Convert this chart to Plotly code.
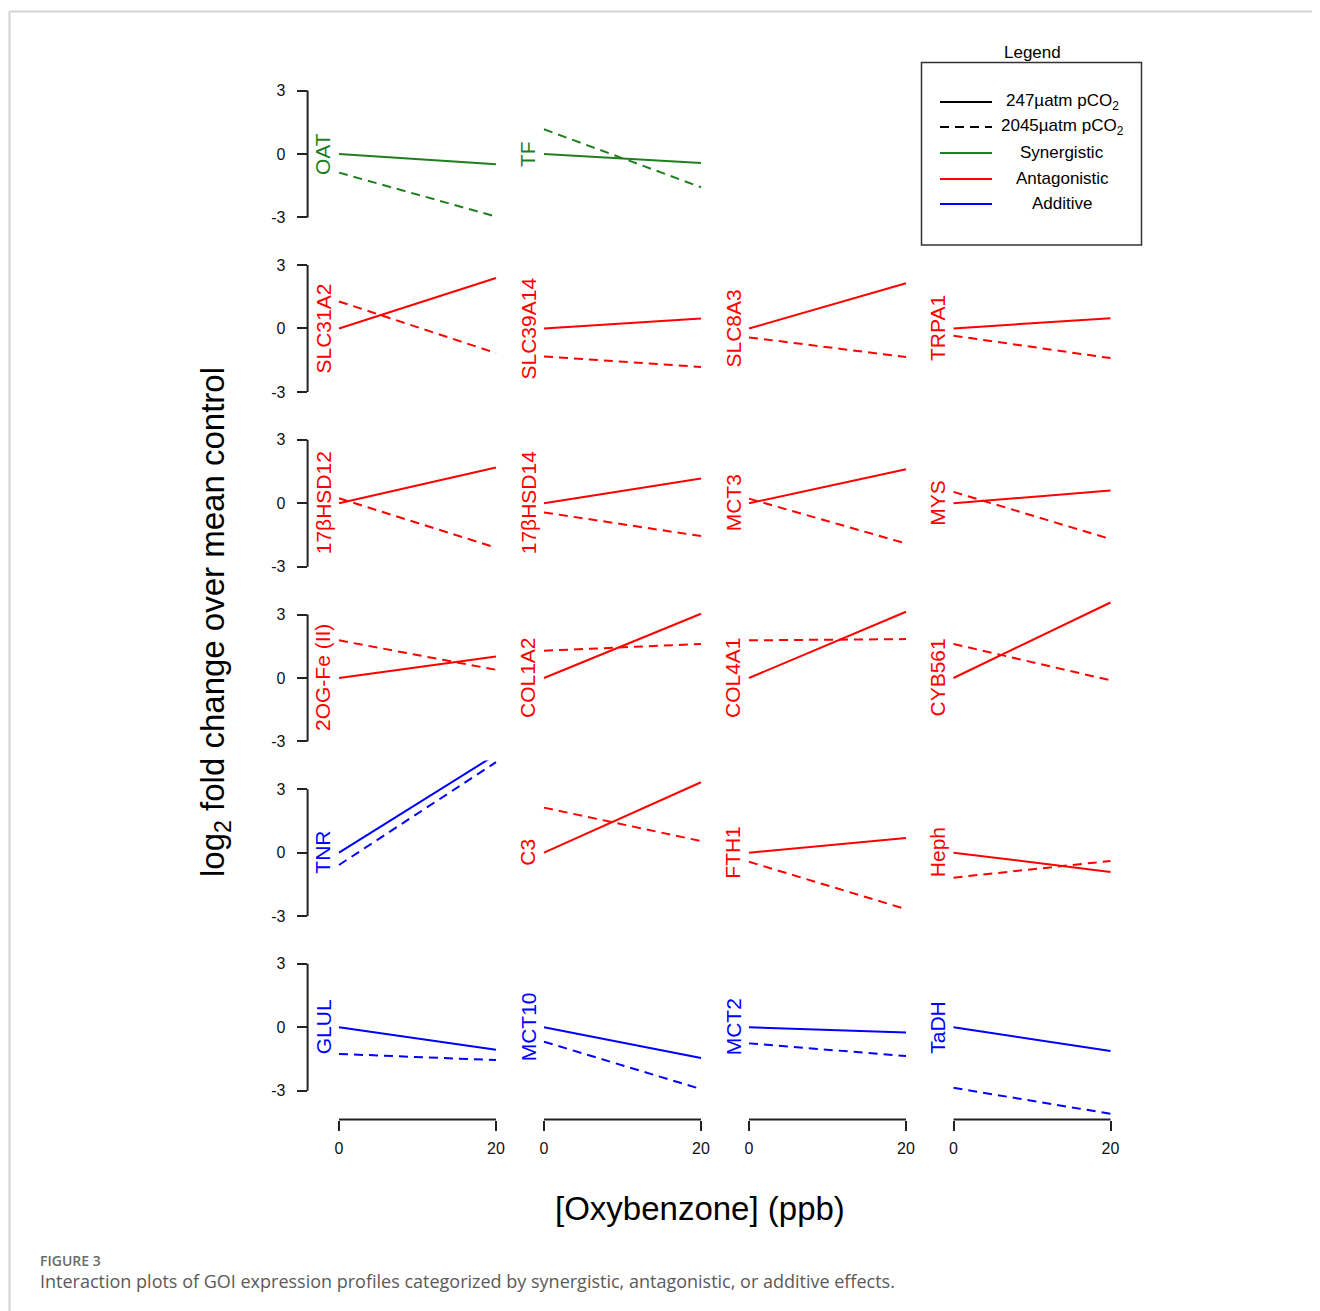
import plotly.graph_objects as go

# ---------------- data ----------------
panel_rows = [
    ["OAT", "TF"],
    ["SLC31A2", "SLC39A14", "SLC8A3", "TRPA1"],
    ["17βHSD12", "17βHSD14", "MCT3", "MYS"],
    ["2OG-Fe (II)", "COL1A2", "COL4A1", "CYB561"],
    ["TNR", "C3", "FTH1", "Heph"],
    ["GLUL", "MCT10", "MCT2", "TaDH"],
]
genes = ["OAT", "TF", "SLC31A2", "SLC39A14", "SLC8A3", "TRPA1",
         "17βHSD12", "17βHSD14", "MCT3", "MYS",
         "2OG-Fe (II)", "COL1A2", "COL4A1", "CYB561",
         "TNR", "C3", "FTH1", "Heph",
         "GLUL", "MCT10", "MCT2", "TaDH"]
effect = ["Synergistic", "Synergistic",
          "Antagonistic", "Antagonistic", "Antagonistic", "Antagonistic",
          "Antagonistic", "Antagonistic", "Antagonistic", "Antagonistic",
          "Antagonistic", "Antagonistic", "Antagonistic", "Antagonistic",
          "Additive", "Antagonistic", "Antagonistic", "Antagonistic",
          "Additive", "Additive", "Additive", "Additive"]
oxybenzone = [0, 20]
# 247 uatm pCO2 (solid): value at 0 and 20 ppb
low_0 = [0.0] * 22
low_20 = [-0.48, -0.43, 2.39, 0.47, 2.14, 0.49,
          1.69, 1.17, 1.61, 0.60,
          1.02, 3.04, 3.13, 3.57,
          4.64, 3.33, 0.69, -0.91,
          -1.06, -1.45, -0.25, -1.12]
# 2045 uatm pCO2 (dashed)
high_0 = [-0.88, 1.17, 1.28, -1.32, -0.42, -0.34,
          0.24, -0.43, 0.22, 0.54,
          1.78, 1.29, 1.78, 1.61,
          -0.58, 2.13, -0.43, -1.18,
          -1.26, -0.68, -0.76, -2.86]
high_20 = [-2.96, -1.57, -1.16, -1.82, -1.35, -1.40,
           -2.10, -1.55, -1.90, -1.69,
           0.39, 1.61, 1.84, -0.11,
           4.28, 0.55, -2.67, -0.39,
           -1.55, -2.92, -1.36, -4.09]
y_ticks = [-3, 0, 3]
y_tick_text = ["-3", "0", "3"]
x_ticks = [0, 20]
x_tick_text = ["0", "20"]
legend_labels = ["247µatm pCO<sub>2</sub>", "2045µatm pCO<sub>2</sub>",
                 "Synergistic", "Antagonistic", "Additive"]

# ---------------- styles / layout ----------------
OFF = 8                      # browser body margin
W, H = 1320 - OFF, 1311 - OFF
colors = {"Synergistic": "#1f7f1f", "Antagonistic": "#ff0000", "Additive": "#0000ff"}
DASH = "9px,6px"
FONT = "Liberation Sans, Arial, sans-serif"
X0 = [339, 544, 749, 953.5]       # page pixel of x=0 per column
SX = 157 / 20.0
Y0 = [154, 328.5, 503.3, 678, 852.7, 1027.3]  # page pixel of y=0 per row
SY = 21.15
XR = (-4, 21)
YR = 4.36


def px(x):
    return (x - OFF) / W


def py(y):
    return 1 - (y - OFF) / H


fig = go.Figure()
shapes = []
annotations = []
n = 0
for r, row in enumerate(panel_rows):
    for c, g in enumerate(row):
        n += 1
        i = genes.index(g)
        xa = "x" if n == 1 else f"x{n}"
        ya = "y" if n == 1 else f"y{n}"
        col = colors[effect[i]]
        fig.add_trace(go.Scatter(x=oxybenzone, y=[low_0[i], low_20[i]], mode="lines",
                                 line=dict(color=col, width=2), xaxis=xa, yaxis=ya,
                                 showlegend=False, hoverinfo="skip"))
        fig.add_trace(go.Scatter(x=oxybenzone, y=[high_0[i], high_20[i]], mode="lines",
                                 line=dict(color=col, width=2, dash=DASH), xaxis=xa, yaxis=ya,
                                 showlegend=False, hoverinfo="skip"))
        left = X0[c] + XR[0] * SX
        right = X0[c] + XR[1] * SX
        top = Y0[r] - YR * SY
        bot = Y0[r] + YR * SY
        xdom = [max(0, px(left)), min(1, px(right))]
        ydom = [max(0, py(bot)), min(1, py(top))]
        last_row = (r == len(panel_rows) - 1)
        first_col = (c == 0)
        xkey = "xaxis" if n == 1 else f"xaxis{n}"
        ykey = "yaxis" if n == 1 else f"yaxis{n}"
        fig.layout[xkey] = dict(domain=xdom, range=list(XR), anchor=ya,
                                showgrid=False, zeroline=False, showline=False,
                                visible=last_row,
                                tickvals=x_ticks, ticktext=x_tick_text,
                                ticks="outside", ticklen=10, tickwidth=2,
                                tickcolor="#222", ticklabelstandoff=4,
                                tickfont=dict(family=FONT, size=16, color="#111"))
        fig.layout[ykey] = dict(domain=ydom, range=[-YR, YR], anchor=xa,
                                showgrid=False, zeroline=False, showline=False,
                                visible=first_col,
                                tickvals=y_ticks, ticktext=y_tick_text,
                                ticks="outside", ticklen=10, tickwidth=2,
                                tickcolor="#222", ticklabelstandoff=8,
                                tickfont=dict(family=FONT, size=16, color="#111"))
        if first_col:
            shapes.append(dict(type="line", xref=f"{xa} domain", yref=ya,
                               x0=0, x1=0, y0=y_ticks[0], y1=y_ticks[-1],
                               line=dict(color="#222", width=2)))
        if last_row:
            shapes.append(dict(type="line", xref=xa, yref=f"{ya} domain",
                               x0=x_ticks[0], x1=x_ticks[-1], y0=0, y1=0,
                               line=dict(color="#222", width=2)))
        annotations.append(dict(text=g, xref=xa, yref=ya, x=0, y=0, xshift=-16,
                                textangle=-90, showarrow=False, xanchor="center",
                                yanchor="middle",
                                font=dict(family=FONT, size=21, color=col)))

# axis titles
annotations.append(dict(text="log<sub>2</sub> fold change over mean control",
                        xref="paper", yref="paper", x=px(215), y=py(622), textangle=-90,
                        showarrow=False, xanchor="center", yanchor="middle",
                        font=dict(family=FONT, size=33, color="#000")))
annotations.append(dict(text="[Oxybenzone] (ppb)", xref="paper", yref="paper",
                        x=px(700), y=py(1208), showarrow=False, xanchor="center",
                        yanchor="middle", font=dict(family=FONT, size=33, color="#000")))

# legend (drawn manually to match the original box)
shapes.append(dict(type="rect", xref="paper", yref="paper", x0=px(921.5), x1=px(1141.5),
                   y0=py(245), y1=py(62.5), line=dict(color="#333", width=1.5)))
annotations.append(dict(text="Legend", xref="paper", yref="paper", x=px(1032), y=py(52),
                        showarrow=False, xanchor="center", yanchor="middle",
                        font=dict(family=FONT, size=17, color="#000")))
leg_y = [102, 127, 153, 179, 204]
leg_col = ["#000", "#000", colors["Synergistic"], colors["Antagonistic"], colors["Additive"]]
leg_dash = ["solid", DASH, "solid", "solid", "solid"]
for lbl, yy, cc, dd in zip(legend_labels, leg_y, leg_col, leg_dash):
    shapes.append(dict(type="line", xref="paper", yref="paper", x0=px(940), x1=px(992),
                       y0=py(yy), y1=py(yy), line=dict(color=cc, width=2, dash=dd)))
    annotations.append(dict(text=lbl, xref="paper", yref="paper", x=px(1062), y=py(yy),
                            showarrow=False, xanchor="center", yanchor="middle",
                            font=dict(family=FONT, size=17, color="#000")))

# caption
annotations.append(dict(text="FIGURE 3", xref="paper", yref="paper", x=px(39), y=py(1260),
                        showarrow=False, xanchor="left", yanchor="middle", borderpad=0,
                        font=dict(family="Open Sans, sans-serif", size=14, color="#6a6a6a",
                                  weight=600)))
annotations.append(dict(text="Interaction plots of GOI expression profiles categorized by "
                             "synergistic, antagonistic, or additive effects.",
                        xref="paper", yref="paper", x=px(39), y=py(1281),
                        showarrow=False, xanchor="left", yanchor="middle", borderpad=0,
                        font=dict(family="Open Sans, sans-serif", size=18, color="#5a5a5a")))

# page frame
shapes.append(dict(type="line", xref="paper", yref="paper", x0=px(9.5), x1=px(9.5),
                   y0=0, y1=py(11.5), line=dict(color="#d2d2d2", width=2)))
shapes.append(dict(type="line", xref="paper", yref="paper", x0=px(9.5), x1=1,
                   y0=py(11.5), y1=py(11.5), line=dict(color="#d2d2d2", width=2)))

fig.update_layout(width=W, height=H, margin=dict(l=0, r=0, t=0, b=0),
                  paper_bgcolor="white", plot_bgcolor="rgba(0,0,0,0)",
                  shapes=shapes, annotations=annotations, showlegend=False)
fig.write_html("out.html")
